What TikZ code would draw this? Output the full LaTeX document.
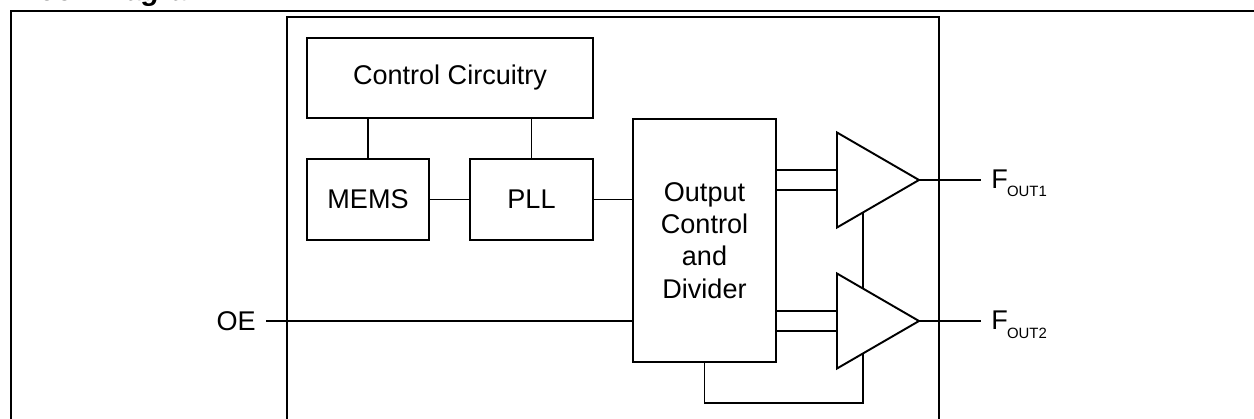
\documentclass[tikz,border=0pt]{standalone}
\usepackage{fontspec}
\setmainfont{Liberation Sans}
\usepackage{tikz}
\usetikzlibrary{calc}

\begin{document}
\begin{tikzpicture}[x=0.02cm, y=-0.02cm,
  wire/.style={line width=1.1pt},
  blk/.style={draw, line width=1.1pt, inner sep=0pt, align=center, font=\fontsize{15.4}{18.4}\selectfont},
  txt/.style={inner sep=0pt, font=\fontsize{15.4}{18.4}\selectfont}]
\useasboundingbox (0,0) rectangle (1254,419);
\node[anchor=base west, inner sep=0pt, font=\fontsize{16.5}{19}\selectfont\bfseries\itshape] (title) at (10,0) {Block Diagram};
\draw[line width=1.7pt] (11,430) -- (11,11) -- (1270,11);
\draw[wire] (287,430) -- (287,17) -- (939,17) -- (939,430);
% blocks
\node[blk, minimum width=5.72cm, minimum height=1.6cm] (ctrl) at (450,78) {Control Circuitry};
\node[blk, minimum width=2.44cm, minimum height=1.62cm] (mems) at (368,199.5) {MEMS};
\node[blk, minimum width=2.46cm, minimum height=1.62cm] (pll) at (531.5,199.5) {PLL};
\node[blk, minimum width=2.86cm, minimum height=4.86cm] (outb) at (704.5,240.5) {Output\\Control\\and\\Divider};
\draw[wire] (mems.north) -- (mems.north |- ctrl.south);
\draw[wire] (pll.north) -- (pll.north |- ctrl.south);
\draw[wire] (mems) -- (pll);
\draw[wire] (pll) -- (pll -| outb.west);
% buffers
\coordinate (a1t) at (837,132.5);
\coordinate (a1b) at (837,227.5);
\coordinate (tip1) at (919,180);
\coordinate (a2t) at (837,273.5);
\coordinate (a2b) at (837,368.5);
\coordinate (tip2) at (919,321);
\draw[wire] (a1t) -- (tip1) -- (a1b) -- cycle;
\draw[wire] (a2t) -- (tip2) -- (a2b) -- cycle;
\coordinate (a1i) at (837,170);
\coordinate (a1j) at (837,190);
\coordinate (a2i) at (837,311);
\coordinate (a2j) at (837,331);
\draw[wire] (a1i -| outb.east) -- (a1i);
\draw[wire] (a1j -| outb.east) -- (a1j);
\draw[wire] (a2i -| outb.east) -- (a2i);
\draw[wire] (a2j -| outb.east) -- (a2j);
\draw[wire] ($(tip1)!0.683!(a1b)$) -- ($(tip2)!0.683!(a2t)$);
\draw[wire] (outb.south) -- ++(0,40) -| ($(tip2)!0.683!(a2b)$);
% pins
\node[txt, anchor=east] (oe) at (256,321) {OE};
\draw[wire] ([xshift=0.2cm]oe.east) -- (oe.east -| outb.west);
\node[txt, anchor=base west] (fout1) at (991,188) {F\kern-0.5pt\raisebox{-0.18cm}{\fontsize{8.5}{9}\selectfont OUT1}};
\node[txt, anchor=base west] (fout2) at (991,329) {F\kern-0.5pt\raisebox{-0.18cm}{\fontsize{8.5}{9}\selectfont OUT2}};
\coordinate (f1) at (981,180);
\coordinate (f2) at (981,321);
\draw[wire] (tip1) -- (f1);
\draw[wire] (tip2) -- (f2);
\end{tikzpicture}
\end{document}
